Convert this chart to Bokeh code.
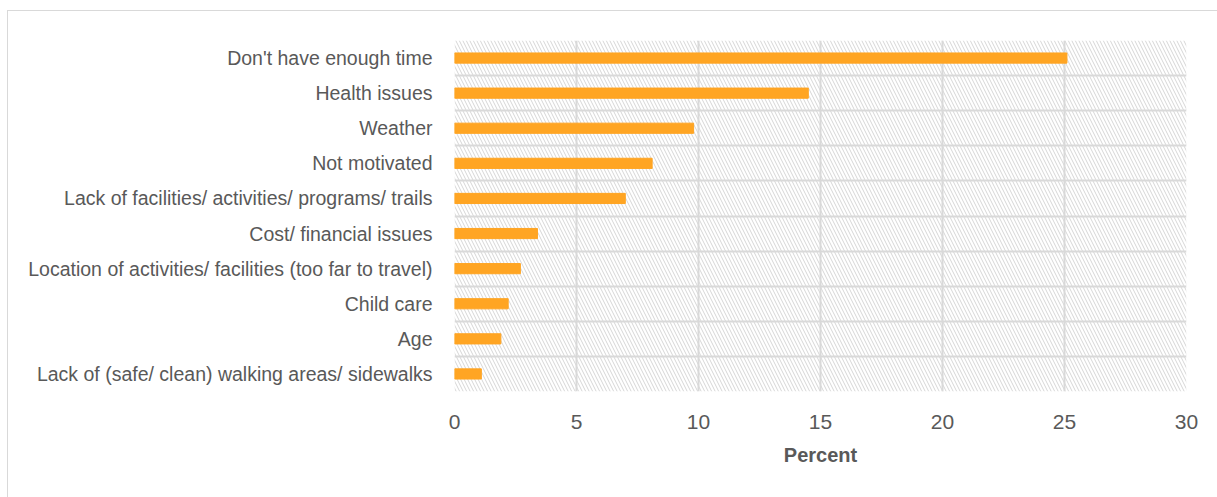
from bokeh.plotting import figure
from bokeh.models import ColumnDataSource, FixedTicker, Range1d, BoxAnnotation
from bokeh.embed import file_html
from bokeh.resources import INLINE

categories = [
    "Don't have enough time",
    "Health issues",
    "Weather",
    "Not motivated",
    "Lack of facilities/ activities/ programs/ trails",
    "Cost/ financial issues",
    "Location of activities/ facilities (too far to travel)",
    "Child care",
    "Age",
    "Lack of (safe/ clean) walking areas/ sidewalks",
]
percent = [25.1, 14.5, 9.8, 8.1, 7.0, 3.4, 2.7, 2.2, 1.9, 1.1]
x_ticks = [0, 5, 10, 15, 20, 25, 30]
x_title = "Percent"

n = len(categories)
ypos = [n - 1 - i for i in range(n)]
src = ColumnDataSource(dict(y=ypos, v=percent, cat=categories))

FONT = "'Liberation Sans', Arial, sans-serif"
TXT = "#595959"
GRID = "#d9d9d9"

p = figure(width=1210, height=487, output_backend="svg", toolbar_location=None,
           x_range=Range1d(0, 30), y_range=Range1d(-0.5, n - 0.5),
           min_border_left=446, min_border_top=29, min_border_right=32, min_border_bottom=107,
           margin=(10, 0, 0, 7))
p.styles = {"border-left": "1px solid #d9d9d9", "border-top": "1px solid #d9d9d9"}
p.outline_line_color = None
p.background_fill_color = "white"
p.border_fill_color = "white"

p.add_layout(BoxAnnotation(left=0, right=30, bottom=-0.5, top=n - 0.5,
                           fill_color="white", fill_alpha=1.0, line_color=None,
                           hatch_pattern="\\", hatch_color="#d6d6d6", hatch_scale=7,
                           hatch_weight=1, level="image"))

p.hbar(y="y", right="v", left=0, height=0.29, source=src, color="#FFA523")

p.xgrid.ticker = FixedTicker(ticks=x_ticks)
p.xgrid.grid_line_color = GRID
p.xgrid.grid_line_width = 2
p.ygrid.ticker = FixedTicker(ticks=[i - 0.5 for i in range(n + 1)])
p.ygrid.grid_line_color = GRID
p.ygrid.grid_line_width = 2

xa = p.xaxis[0]
xa.ticker = FixedTicker(ticks=x_ticks)
xa.axis_line_color = None
xa.major_tick_line_color = None
xa.minor_tick_line_color = None
xa.major_label_standoff = 17
xa.major_label_text_font = FONT
xa.major_label_text_font_size = "21px"
xa.major_label_text_color = TXT
xa.axis_label = x_title
xa.axis_label_text_font = FONT
xa.axis_label_text_font_size = "20px"
xa.axis_label_text_font_style = "bold"
xa.axis_label_text_color = TXT
xa.axis_label_standoff = 12

ya = p.yaxis[0]
ya.ticker = FixedTicker(ticks=ypos)
ya.major_label_overrides = {y: c for y, c in zip(ypos, categories)}
ya.axis_line_color = None
ya.major_tick_line_color = None
ya.minor_tick_line_color = None
ya.major_label_standoff = 16
ya.major_label_text_font = FONT
ya.major_label_text_font_size = "19.5px"
ya.major_label_text_color = TXT

open("out.html", "w").write(file_html(p, INLINE))
